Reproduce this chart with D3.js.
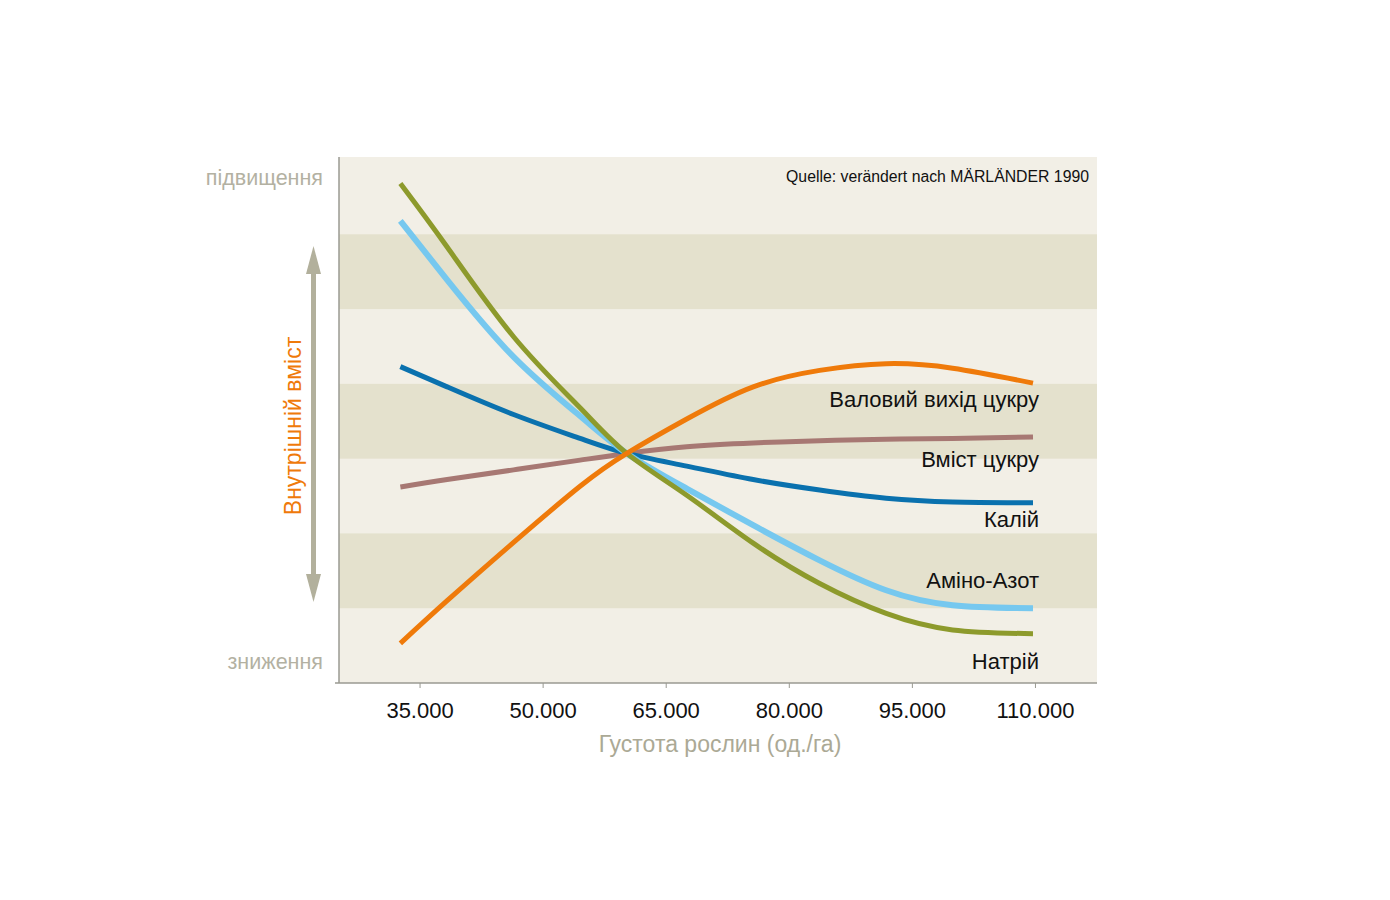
<!DOCTYPE html>
<html><head><meta charset="utf-8">
<script src="https://cdn.jsdelivr.net/npm/d3@7"></script>
<style>html,body{margin:0;padding:0;background:#fff;} svg{display:block;font-family:"Liberation Sans",Arial,sans-serif;}</style>
</head><body>
<svg id="c" width="1390" height="900"></svg>
<script>
const density = [32600, 38300, 46400, 54500, 60200, 67500, 75600, 83700, 91800, 99900, 109700];
const natrium   = [6.68, 5.83, 4.63, 3.68, 3.07, 2.51, 1.87, 1.33, 0.93, 0.71, 0.66];
const aminoN    = [6.18, 5.39, 4.36, 3.57, 3.07, 2.60, 2.11, 1.64, 1.24, 1.04, 1.00];
const kalium    = [4.23, 3.96, 3.59, 3.27, 3.07, 2.90, 2.72, 2.58, 2.47, 2.42, 2.41];
const zucker    = [2.62, 2.72, 2.85, 2.98, 3.07, 3.16, 3.21, 3.24, 3.26, 3.27, 3.29];
const ertrag    = [0.53, 1.10, 1.88, 2.63, 3.07, 3.53, 3.96, 4.18, 4.27, 4.21, 4.01];
const xTicks = [35000, 50000, 65000, 80000, 95000, 110000];
const xTickLabels = ["35.000", "50.000", "65.000", "80.000", "95.000", "110.000"];
const seriesNames = ["Натрій", "Аміно-Азот", "Калій", "Вміст цукру", "Валовий вихід цукру"];
const darkBands = [1, 3, 5];

const svg = d3.select("#c");
const x = d3.scaleLinear().domain([25000, 117500]).range([338, 1097]);
const y = d3.scaleLinear().domain([0, 7]).range([683, 159.5]);

// plot background + bands
svg.append("rect").attr("x", 339).attr("y", 157).attr("width", 1097 - 339).attr("height", 683 - 157)
  .attr("fill", "#f2efe6");
svg.append("g").selectAll("rect").data(darkBands).join("rect")
  .attr("x", 339).attr("width", 1097 - 339)
  .attr("y", d => y(d + 1)).attr("height", d => y(d) - y(d + 1))
  .attr("fill", "#e4e1cd");

// axes lines
svg.append("line").attr("x1", 339).attr("x2", 339).attr("y1", 157).attr("y2", 683)
  .attr("stroke", "#9a9a92").attr("stroke-width", 1.5);
svg.append("line").attr("x1", 335).attr("x2", 1097).attr("y1", 683).attr("y2", 683)
  .attr("stroke", "#9a9a92").attr("stroke-width", 1.5);
svg.append("g").selectAll("line").data(xTicks).join("line")
  .attr("x1", d => x(d)).attr("x2", d => x(d)).attr("y1", 683).attr("y2", 688)
  .attr("stroke", "#9a9a92").attr("stroke-width", 1);
svg.append("g").selectAll("text").data(xTicks).join("text")
  .attr("x", d => x(d)).attr("y", 718).attr("text-anchor", "middle")
  .attr("font-size", 22).attr("fill", "#111")
  .text((d, i) => xTickLabels[i]);

svg.append("text").attr("x", 720).attr("y", 752).attr("text-anchor", "middle")
  .attr("font-size", 23).attr("fill", "#aba995").text("Густота рослин (од./га)");

svg.append("text").attr("x", 323).attr("y", 185).attr("text-anchor", "end")
  .attr("font-size", 21.5).attr("fill", "#b3b1a2").text("підвищення");
svg.append("text").attr("x", 323).attr("y", 669).attr("text-anchor", "end")
  .attr("font-size", 21.5).attr("fill", "#b3b1a2").text("зниження");

svg.append("text").attr("transform", "translate(301,426) rotate(-90)")
  .attr("text-anchor", "middle").attr("font-size", 23).attr("fill", "#ef7a0a")
  .text("Внутрішній вміст");

// double arrow
const ag = svg.append("g").attr("fill", "#b2b09c");
ag.append("rect").attr("x", 311).attr("y", 262).attr("width", 5).attr("height", 326);
ag.append("path").attr("d", "M313.5,246 L321,274 L306,274 Z");
ag.append("path").attr("d", "M313.5,602 L321,574 L306,574 Z");

svg.append("text").attr("x", 1089).attr("y", 182).attr("text-anchor", "end")
  .attr("font-size", 15.8).attr("fill", "#111").text("Quelle: verändert nach MÄRLÄNDER 1990");

// lines
const line = d3.line().x((d, i) => x(density[i])).y(d => y(d)).curve(d3.curveNatural);
const series = [
  {v: zucker, c: "#a77873", w: 5},
  {v: kalium, c: "#0a71ae", w: 5},
  {v: aminoN, c: "#76c8ef", w: 6},
  {v: natrium, c: "#8d9a2c", w: 5},
  {v: ertrag, c: "#ef7a0a", w: 5}
];
svg.append("g").selectAll("path").data(series).join("path")
  .attr("d", d => line(d.v)).attr("fill", "none")
  .attr("stroke", d => d.c).attr("stroke-width", d => d.w);

// series labels
const labelY = [669, 588, 527, 467, 407];
svg.append("g").selectAll("text").data(seriesNames).join("text")
  .attr("x", 1039).attr("y", (d, i) => labelY[i]).attr("text-anchor", "end")
  .attr("font-size", 22).attr("fill", "#111").text(d => d);
</script>
</body></html>
